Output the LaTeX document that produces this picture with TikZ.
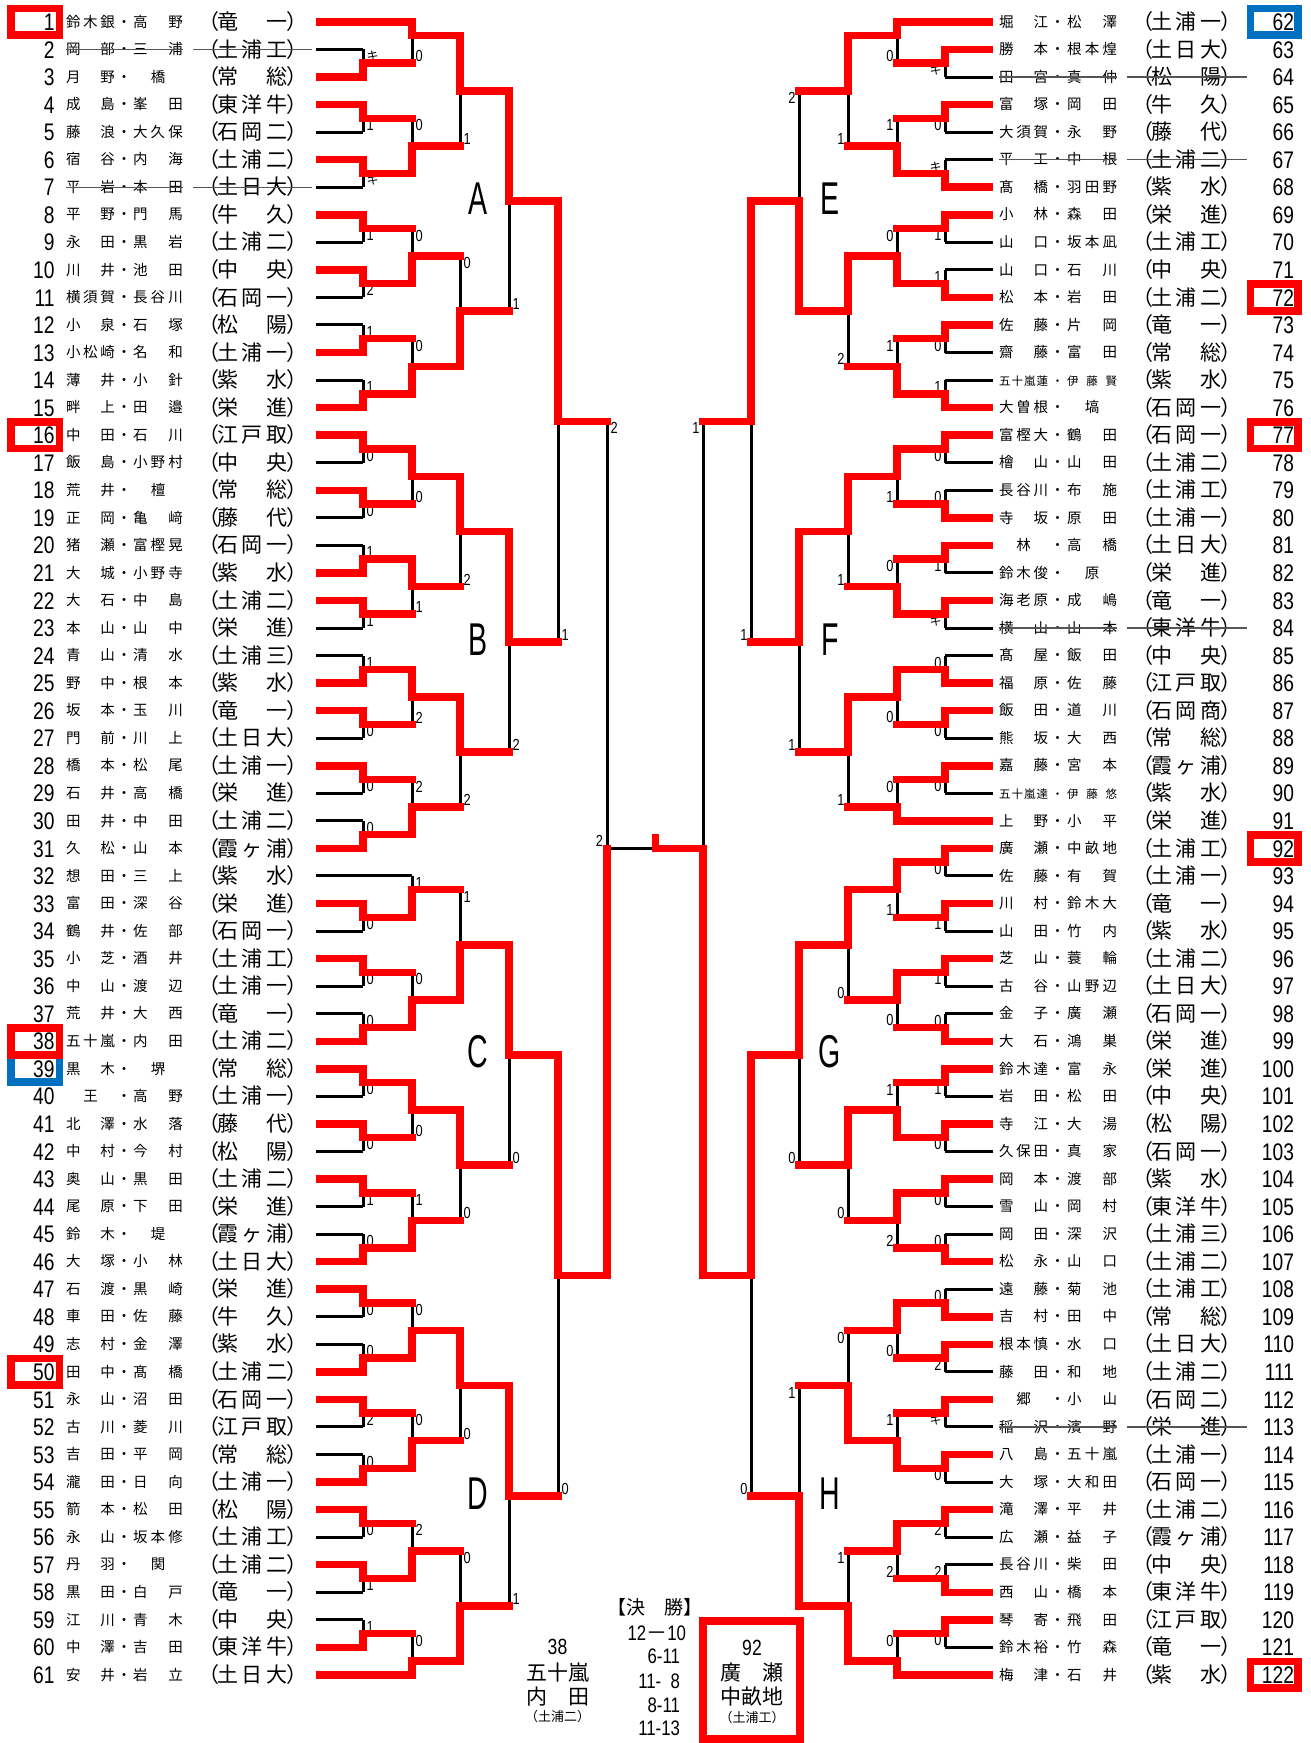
\documentclass[tikz,border=0pt]{standalone}
\usepackage{fontspec}
\setmainfont{Liberation Sans}
\newfontfamily\jpf{Noto Sans CJK JP}
\newfontfamily\nmf[FakeStretch=0.8]{Liberation Sans}
\newfontfamily\ltf[FakeStretch=0.62]{Liberation Sans}
\pgfdeclarelayer{bg}
\pgfsetlayers{bg,main}
\definecolor{bxblue}{RGB}{0,112,192}
\definecolor{stk}{RGB}{85,85,85}
\newcommand\namefont{\jpf\fontsize{14.5}{14.5}\selectfont}
\newcommand\smnamefont{\jpf\fontsize{11.5}{11.5}\selectfont}
\newcommand\schfont{\jpf\fontsize{21}{21}\selectfont}
\newcommand\numfont{\nmf\fontsize{24}{24}\selectfont}
\newcommand\labfont{\nmf\fontsize{16}{16}\selectfont}
\newcommand\ki{{\jpf\fontsize{12}{12}\selectfont キ}}
\ExplSyntaxOn
\NewDocumentCommand\spr{mm}{
  \hbox_to_wd:nn {#1} {
    \int_compare:nNnTF { \tl_count:n {#2} } = { 1 }
      { \hfil #2 \hfil }
      {
        \bool_set_false:N \l_tmpa_bool
        \tl_map_inline:nn {#2}
          { \bool_if:NT \l_tmpa_bool { \hfill } ##1 \bool_set_true:N \l_tmpa_bool }
      }
  }
}
\ExplSyntaxOff
\newcommand\yk[1]{(21.9+13.775*(#1))}
\def\LX#1{\ifcase#1 316\or 363\or 412\or 460\or 509\or 558\or 607\else 655\fi}
\def\RX#1{\ifcase#1 993\or 945\or 897\or 848\or 799\or 751\or 703\else 655\fi}
\tikzset{
  rl/.style={draw=red,line width=7.5pt,line cap=rect},
  bl/.style={draw=black,line width=3pt},
  tx/.style={inner sep=0pt,outer sep=0pt},
  lab/.style={tx,font=\labfont},
}
% entries
\newcommand\LE[3]{\edef\xa{\LX{#2}}%
  \if r#3\draw[rl] (319.75,{\yk{#1}}) -- (\xa,{\yk{#1}});%
  \else\begin{pgfonlayer}{bg}\draw[bl] (316,{\yk{#1}}) -- (\xa,{\yk{#1}});\end{pgfonlayer}\fi}
\newcommand\RE[3]{\edef\xa{\RX{#2}}%
  \if r#3\draw[rl] (989.25,{\yk{#1}}) -- (\xa,{\yk{#1}});%
  \else\begin{pgfonlayer}{bg}\draw[bl] (993,{\yk{#1}}) -- (\xa,{\yk{#1}});\end{pgfonlayer}\fi}
% matches
\newcommand\LM[6]{\edef\xa{\LX{#1}}\edef\xb{\LX{\numexpr#1+1\relax}}%
  \begin{pgfonlayer}{bg}\draw[bl] (\xa,{\yk{#2}}) -- (\xa,{\yk{#3}});\end{pgfonlayer}%
  \if t#5%
    \draw[rl] (\xa,{\yk{#2}}) -- (\xa,{\yk{#4}});%
    \node[lab,anchor=west] at (\xa+3.5,{\yk{#3}-7}) {#6};%
  \else
    \draw[rl] (\xa,{\yk{#3}}) -- (\xa,{\yk{#4}});%
    \node[lab,anchor=west] at (\xa+3.5,{\yk{#2}+7}) {#6};%
  \fi
  \ifnum#1<6 \draw[rl] (\xa,{\yk{#4}}) -- (\xb,{\yk{#4}});\fi}
\newcommand\RM[6]{\edef\xa{\RX{#1}}\edef\xb{\RX{\numexpr#1+1\relax}}%
  \begin{pgfonlayer}{bg}\draw[bl] (\xa,{\yk{#2}}) -- (\xa,{\yk{#3}});\end{pgfonlayer}%
  \if t#5%
    \draw[rl] (\xa,{\yk{#2}}) -- (\xa,{\yk{#4}});%
    \node[lab,anchor=east] at (\xa-3.5,{\yk{#3}-7}) {#6};%
  \else
    \draw[rl] (\xa,{\yk{#3}}) -- (\xa,{\yk{#4}});%
    \node[lab,anchor=east] at (\xa-3.5,{\yk{#2}+7}) {#6};%
  \fi
  \ifnum#1<6 \draw[rl] (\xa,{\yk{#4}}) -- (\xb,{\yk{#4}});\fi}
% rows
\newcommand\LR[5][n]{\pgfmathsetmacro\ry{21.9+27.55*(#2-1)}%
  \if t#1\def\nf{\smnamefont}\else\def\nf{\namefont}\fi
  \node[tx,font=\numfont,anchor=base east] (L#2) at (54.5,\ry+8.6) {#2};%
  \node[tx,font=\nf,anchor=base west] (Lf#2) at (66,\ry+5.2) {\spr{49pt}{#3}};%
  \node[tx,font=\nf,anchor=base] (Ld#2) at (124,\ry+5.2) {・};%
  \node[tx,font=\nf,anchor=base west] (Lg#2) at (133,\ry+5.2) {\spr{50pt}{#4}};%
  \node[tx,font=\schfont,anchor=base east] (Lo#2) at (219,\ry+7.6) {（};%
  \node[tx,font=\schfont,anchor=base west] (Ls#2) at (217.5,\ry+7.6) {\spr{70pt}{#5}};%
  \node[tx,font=\schfont,anchor=base west] (Lc#2) at (286,\ry+7.6) {）};%
  \if s#1\draw[stk,line width=1.3pt] (66,\ry) -- (183,\ry) (193,\ry) -- (312,\ry);\fi}
\newcommand\RR[5][n]{\pgfmathsetmacro\ry{21.9+27.55*(#2-62)}%
  \if t#1\def\nf{\smnamefont}\else\def\nf{\namefont}\fi
  \node[tx,font=\numfont,anchor=base east] (R#2) at (1294,\ry+8.6) {#2};%
  \node[tx,font=\nf,anchor=base west] (Rf#2) at (999,\ry+5.2) {\spr{49pt}{#3}};%
  \node[tx,font=\nf,anchor=base] (Rd#2) at (1057.5,\ry+5.2) {・};%
  \node[tx,font=\nf,anchor=base west] (Rg#2) at (1067,\ry+5.2) {\spr{50pt}{#4}};%
  \node[tx,font=\schfont,anchor=base east] (Ro#2) at (1153,\ry+7.6) {（};%
  \node[tx,font=\schfont,anchor=base west] (Rs#2) at (1151,\ry+7.6) {\spr{70pt}{#5}};%
  \node[tx,font=\schfont,anchor=base west] (Rc#2) at (1220.5,\ry+7.6) {）};%
  \if s#1\draw[stk,line width=1.3pt] (999,\ry) -- (1117,\ry) (1127,\ry) -- (1247,\ry);\fi}
\newcommand\Lbox[2]{\pgfmathsetmacro\ry{21.9+27.55*(#1-1)}%
  \draw[#2,line width=7.7pt] (11,\ry-13.4) rectangle (59.5,\ry+13.4);}
\newcommand\Rbox[2]{\pgfmathsetmacro\ry{21.9+27.55*(#1-62)}%
  \draw[#2,line width=7.7pt] (1250.5,\ry-13.4) rectangle (1298,\ry+13.4);}

\begin{document}
\begin{tikzpicture}[x=1pt,y=-1pt]
\begin{pgfonlayer}{bg}\fill[white] (0,0) rectangle (1311,1743);\end{pgfonlayer}
\useasboundingbox (0,0) rectangle (1311,1743);

% ---------------- left names
\LR{1}{鈴木銀}{高野}{竜一}
\LR[s]{2}{岡部}{三浦}{土浦工}
\LR{3}{月野}{橋}{常総}
\LR{4}{成島}{峯田}{東洋牛}
\LR{5}{藤浪}{大久保}{石岡二}
\LR{6}{宿谷}{内海}{土浦二}
\LR[s]{7}{平岩}{本田}{土日大}
\LR{8}{平野}{門馬}{牛久}
\LR{9}{永田}{黒岩}{土浦二}
\LR{10}{川井}{池田}{中央}
\LR{11}{横須賀}{長谷川}{石岡一}
\LR{12}{小泉}{石塚}{松陽}
\LR{13}{小松崎}{名和}{土浦一}
\LR{14}{薄井}{小針}{紫水}
\LR{15}{畔上}{田邉}{栄進}
\LR{16}{中田}{石川}{江戸取}
\LR{17}{飯島}{小野村}{中央}
\LR{18}{荒井}{檀}{常総}
\LR{19}{正岡}{亀﨑}{藤代}
\LR{20}{猪瀬}{富樫晃}{石岡一}
\LR{21}{大城}{小野寺}{紫水}
\LR{22}{大石}{中島}{土浦二}
\LR{23}{本山}{山中}{栄進}
\LR{24}{青山}{清水}{土浦三}
\LR{25}{野中}{根本}{紫水}
\LR{26}{坂本}{玉川}{竜一}
\LR{27}{門前}{川上}{土日大}
\LR{28}{橋本}{松尾}{土浦一}
\LR{29}{石井}{高橋}{栄進}
\LR{30}{田井}{中田}{土浦二}
\LR{31}{久松}{山本}{霞ヶ浦}
\LR{32}{想田}{三上}{紫水}
\LR{33}{富田}{深谷}{栄進}
\LR{34}{鶴井}{佐部}{石岡一}
\LR{35}{小芝}{酒井}{土浦工}
\LR{36}{中山}{渡辺}{土浦一}
\LR{37}{荒井}{大西}{竜一}
\LR{38}{五十嵐}{内田}{土浦二}
\LR{39}{黒木}{堺}{常総}
\LR{40}{王}{高野}{土浦一}
\LR{41}{北澤}{水落}{藤代}
\LR{42}{中村}{今村}{松陽}
\LR{43}{奥山}{黒田}{土浦二}
\LR{44}{尾原}{下田}{栄進}
\LR{45}{鈴木}{堤}{霞ヶ浦}
\LR{46}{大塚}{小林}{土日大}
\LR{47}{石渡}{黒崎}{栄進}
\LR{48}{車田}{佐藤}{牛久}
\LR{49}{志村}{金澤}{紫水}
\LR{50}{田中}{髙橋}{土浦二}
\LR{51}{永山}{沼田}{石岡一}
\LR{52}{古川}{菱川}{江戸取}
\LR{53}{吉田}{平岡}{常総}
\LR{54}{瀧田}{日向}{土浦一}
\LR{55}{箭本}{松田}{松陽}
\LR{56}{永山}{坂本修}{土浦工}
\LR{57}{丹羽}{関}{土浦二}
\LR{58}{黒田}{白戸}{竜一}
\LR{59}{江川}{青木}{中央}
\LR{60}{中澤}{吉田}{東洋牛}
\LR{61}{安井}{岩立}{土日大}

% ---------------- right names
\RR{62}{堀江}{松澤}{土浦一}
\RR{63}{勝本}{根本煌}{土日大}
\RR[s]{64}{田宮}{真仲}{松陽}
\RR{65}{富塚}{岡田}{牛久}
\RR{66}{大須賀}{永野}{藤代}
\RR[s]{67}{平工}{中根}{土浦二}
\RR{68}{髙橋}{羽田野}{紫水}
\RR{69}{小林}{森田}{栄進}
\RR{70}{山口}{坂本凪}{土浦工}
\RR{71}{山口}{石川}{中央}
\RR{72}{松本}{岩田}{土浦二}
\RR{73}{佐藤}{片岡}{竜一}
\RR{74}{齋藤}{富田}{常総}
\RR[t]{75}{五十嵐蓮}{伊藤賢}{紫水}
\RR{76}{大曽根}{塙}{石岡一}
\RR{77}{富樫大}{鶴田}{石岡一}
\RR{78}{檜山}{山田}{土浦二}
\RR{79}{長谷川}{布施}{土浦工}
\RR{80}{寺坂}{原田}{土浦一}
\RR{81}{林}{高橋}{土日大}
\RR{82}{鈴木俊}{原}{栄進}
\RR{83}{海老原}{成嶋}{竜一}
\RR[s]{84}{横山}{山本}{東洋牛}
\RR{85}{髙屋}{飯田}{中央}
\RR{86}{福原}{佐藤}{江戸取}
\RR{87}{飯田}{道川}{石岡商}
\RR{88}{熊坂}{大西}{常総}
\RR{89}{嘉藤}{宮本}{霞ヶ浦}
\RR[t]{90}{五十嵐達}{伊藤悠}{紫水}
\RR{91}{上野}{小平}{栄進}
\RR{92}{廣瀬}{中畝地}{土浦工}
\RR{93}{佐藤}{有賀}{土浦一}
\RR{94}{川村}{鈴木大}{竜一}
\RR{95}{山田}{竹内}{紫水}
\RR{96}{芝山}{蓑輪}{土浦二}
\RR{97}{古谷}{山野辺}{土日大}
\RR{98}{金子}{廣瀬}{石岡一}
\RR{99}{大石}{鴻巣}{栄進}
\RR{100}{鈴木達}{富永}{栄進}
\RR{101}{岩田}{松田}{中央}
\RR{102}{寺江}{大湯}{松陽}
\RR{103}{久保田}{真家}{石岡一}
\RR{104}{岡本}{渡部}{紫水}
\RR{105}{雪山}{岡村}{東洋牛}
\RR{106}{岡田}{深沢}{土浦三}
\RR{107}{松永}{山口}{土浦二}
\RR{108}{遠藤}{菊池}{土浦工}
\RR{109}{吉村}{田中}{常総}
\RR{110}{根本慎}{水口}{土日大}
\RR{111}{藤田}{和地}{土浦二}
\RR{112}{郷}{小山}{石岡二}
\RR[s]{113}{稲沢}{濱野}{栄進}
\RR{114}{八島}{五十嵐}{土浦一}
\RR{115}{大塚}{大和田}{石岡一}
\RR{116}{滝澤}{平井}{土浦二}
\RR{117}{広瀬}{益子}{霞ヶ浦}
\RR{118}{長谷川}{柴田}{中央}
\RR{119}{西山}{橋本}{東洋牛}
\RR{120}{琴寄}{飛田}{江戸取}
\RR{121}{鈴木裕}{竹森}{竜一}
\RR{122}{梅津}{石井}{紫水}

% ---------------- boxes
\Lbox{39}{bxblue}\Lbox{1}{red}\Lbox{16}{red}\Lbox{38}{red}\Lbox{50}{red}
\Rbox{62}{bxblue}\Rbox{72}{red}\Rbox{77}{red}\Rbox{92}{red}\Rbox{122}{red}

% ---------------- block letters
\foreach \L/\x/\y in {A/478/199,B/478/640,C/478/1052,D/478/1494,E/830/199,F/830/640,G/830/1052,H/830/1494}
  \node[tx,font=\ltf\fontsize{46}{46}\selectfont] (blk\L) at (\x,\y) {\L};

% ================= LEFT BRACKET
% A
\LE{0}{2}{r}
\LE{2}{1}{b}\LE{4}{1}{r}\LE{6}{1}{r}\LE{8}{1}{b}\LE{10}{1}{r}\LE{12}{1}{b}\LE{14}{1}{r}\LE{16}{1}{b}\LE{18}{1}{r}\LE{20}{1}{b}\LE{22}{1}{b}\LE{24}{1}{r}\LE{26}{1}{b}\LE{28}{1}{r}
\LM{1}{2}{4}{3}{b}{\ki}
\LM{1}{6}{8}{7}{t}{1}
\LM{1}{10}{12}{11}{t}{\ki}
\LM{1}{14}{16}{15}{t}{1}
\LM{1}{18}{20}{19}{t}{2}
\LM{1}{22}{24}{23}{b}{1}
\LM{1}{26}{28}{27}{b}{1}
\LM{2}{0}{3}{1}{t}{0}
\LM{2}{7}{11}{9}{b}{0}
\LM{2}{15}{19}{17}{b}{0}
\LM{2}{23}{27}{25}{b}{0}
\LM{3}{1}{9}{5}{t}{1}
\LM{3}{17}{25}{21}{b}{0}
\LM{4}{5}{21}{13}{t}{1}
% B
\LE{30}{1}{r}\LE{32}{1}{b}\LE{34}{1}{r}\LE{36}{1}{b}\LE{38}{1}{b}\LE{40}{1}{r}\LE{42}{1}{r}\LE{44}{1}{b}\LE{46}{1}{b}\LE{48}{1}{r}\LE{50}{1}{r}\LE{52}{1}{b}\LE{54}{1}{r}\LE{56}{1}{b}\LE{58}{1}{b}\LE{60}{1}{r}
\LM{1}{30}{32}{31}{t}{0}
\LM{1}{34}{36}{35}{t}{0}
\LM{1}{38}{40}{39}{b}{1}
\LM{1}{42}{44}{43}{t}{1}
\LM{1}{46}{48}{47}{b}{1}
\LM{1}{50}{52}{51}{t}{0}
\LM{1}{54}{56}{55}{t}{0}
\LM{1}{58}{60}{59}{b}{0}
\LM{2}{31}{35}{33}{t}{0}
\LM{2}{39}{43}{41}{t}{1}
\LM{2}{47}{51}{49}{t}{2}
\LM{2}{55}{59}{57}{b}{2}
\LM{3}{33}{41}{37}{t}{2}
\LM{3}{49}{57}{53}{t}{2}
\LM{4}{37}{53}{45}{t}{2}
\LM{5}{13}{45}{29}{t}{1}
% C
\LE{62}{2}{b}
\LE{64}{1}{r}\LE{66}{1}{b}\LE{68}{1}{r}\LE{70}{1}{b}\LE{72}{1}{b}\LE{74}{1}{r}\LE{76}{1}{r}\LE{78}{1}{b}\LE{80}{1}{r}\LE{82}{1}{b}\LE{84}{1}{r}\LE{86}{1}{b}\LE{88}{1}{b}\LE{90}{1}{r}
\LM{1}{64}{66}{65}{t}{0}
\LM{1}{68}{70}{69}{t}{0}
\LM{1}{72}{74}{73}{b}{0}
\LM{1}{76}{78}{77}{t}{0}
\LM{1}{80}{82}{81}{t}{0}
\LM{1}{84}{86}{85}{t}{1}
\LM{1}{88}{90}{89}{b}{0}
\LM{2}{62}{65}{63}{b}{1}
\LM{2}{69}{73}{71}{b}{0}
\LM{2}{77}{81}{79}{t}{0}
\LM{2}{85}{89}{87}{b}{1}
\LM{3}{63}{71}{67}{b}{1}
\LM{3}{79}{87}{83}{t}{0}
\LM{4}{67}{83}{75}{t}{0}
\LM{5}{75}{107}{91}{t}{0}
% D
\LE{92}{1}{r}\LE{94}{1}{b}\LE{96}{1}{b}\LE{98}{1}{r}\LE{100}{1}{r}\LE{102}{1}{b}\LE{104}{1}{b}\LE{106}{1}{r}\LE{108}{1}{r}\LE{110}{1}{b}\LE{112}{1}{r}\LE{114}{1}{b}\LE{116}{1}{b}\LE{118}{1}{r}\LE{120}{2}{r}
\LM{1}{92}{94}{93}{t}{0}
\LM{1}{96}{98}{97}{b}{0}
\LM{1}{100}{102}{101}{t}{2}
\LM{1}{104}{106}{105}{b}{0}
\LM{1}{108}{110}{109}{t}{0}
\LM{1}{112}{114}{113}{t}{1}
\LM{1}{116}{118}{117}{b}{1}
\LM{2}{93}{97}{95}{b}{0}
\LM{2}{101}{105}{103}{b}{0}
\LM{2}{109}{113}{111}{b}{2}
\LM{2}{117}{120}{119}{b}{0}
\LM{3}{95}{103}{99}{t}{0}
\LM{3}{111}{119}{115}{b}{0}
\LM{4}{99}{115}{107}{t}{1}
\LM{6}{29}{91}{60}{b}{2}

% ================= RIGHT BRACKET
% E
\RE{0}{2}{r}\RE{2}{1}{r}\RE{4}{1}{b}\RE{6}{1}{r}\RE{8}{1}{b}\RE{10}{1}{b}\RE{12}{1}{r}\RE{14}{1}{r}\RE{16}{1}{b}\RE{18}{1}{b}\RE{20}{1}{r}\RE{22}{1}{r}\RE{24}{1}{b}\RE{26}{1}{b}\RE{28}{1}{r}
\RM{1}{2}{4}{3}{t}{\ki}
\RM{1}{6}{8}{7}{t}{0}
\RM{1}{10}{12}{11}{b}{\ki}
\RM{1}{14}{16}{15}{t}{1}
\RM{1}{18}{20}{19}{b}{1}
\RM{1}{22}{24}{23}{t}{0}
\RM{1}{26}{28}{27}{b}{1}
\RM{2}{0}{3}{1}{t}{0}
\RM{2}{7}{11}{9}{b}{1}
\RM{2}{15}{19}{17}{b}{0}
\RM{2}{23}{27}{25}{b}{1}
\RM{3}{1}{9}{5}{t}{1}
\RM{3}{17}{25}{21}{t}{2}
\RM{4}{5}{21}{13}{b}{2}
\RM{5}{13}{45}{29}{t}{1}
% F
\RE{30}{1}{r}\RE{32}{1}{b}\RE{34}{1}{b}\RE{36}{1}{r}\RE{38}{1}{r}\RE{40}{1}{b}\RE{42}{1}{r}\RE{44}{1}{b}\RE{46}{1}{b}\RE{48}{1}{r}\RE{50}{1}{r}\RE{52}{1}{b}\RE{54}{1}{r}\RE{56}{1}{b}\RE{58}{2}{r}
\RM{1}{30}{32}{31}{t}{0}
\RM{1}{34}{36}{35}{b}{0}
\RM{1}{38}{40}{39}{t}{1}
\RM{1}{42}{44}{43}{t}{\ki}
\RM{1}{46}{48}{47}{b}{0}
\RM{1}{50}{52}{51}{t}{0}
\RM{1}{54}{56}{55}{t}{0}
\RM{2}{31}{35}{33}{t}{1}
\RM{2}{39}{43}{41}{b}{0}
\RM{2}{47}{51}{49}{t}{0}
\RM{2}{55}{58}{57}{b}{0}
\RM{3}{33}{41}{37}{t}{1}
\RM{3}{49}{57}{53}{t}{1}
\RM{4}{37}{53}{45}{t}{1}
% G
\RE{60}{1}{r}\RE{62}{1}{b}\RE{64}{1}{r}\RE{66}{1}{b}\RE{68}{1}{r}\RE{70}{1}{b}\RE{72}{1}{b}\RE{74}{1}{r}\RE{76}{1}{r}\RE{78}{1}{b}\RE{80}{1}{r}\RE{82}{1}{b}\RE{84}{1}{r}\RE{86}{1}{b}\RE{88}{1}{b}\RE{90}{1}{r}
\RM{1}{60}{62}{61}{t}{0}
\RM{1}{64}{66}{65}{t}{1}
\RM{1}{68}{70}{69}{t}{1}
\RM{1}{72}{74}{73}{b}{0}
\RM{1}{76}{78}{77}{t}{1}
\RM{1}{80}{82}{81}{t}{0}
\RM{1}{84}{86}{85}{t}{0}
\RM{1}{88}{90}{89}{b}{0}
\RM{2}{61}{65}{63}{t}{1}
\RM{2}{69}{73}{71}{t}{0}
\RM{2}{77}{81}{79}{b}{1}
\RM{2}{85}{89}{87}{t}{2}
\RM{3}{63}{71}{67}{t}{0}
\RM{3}{79}{87}{83}{t}{0}
\RM{4}{67}{83}{75}{t}{0}
% H
\RE{92}{1}{b}\RE{94}{1}{r}\RE{96}{1}{r}\RE{98}{1}{b}\RE{100}{1}{r}\RE{102}{1}{b}\RE{104}{1}{r}\RE{106}{1}{b}\RE{108}{1}{r}\RE{110}{1}{b}\RE{112}{1}{b}\RE{114}{1}{r}\RE{116}{1}{r}\RE{118}{1}{b}\RE{120}{2}{r}
\RM{1}{92}{94}{93}{b}{0}
\RM{1}{96}{98}{97}{t}{2}
\RM{1}{100}{102}{101}{t}{\ki}
\RM{1}{104}{106}{105}{t}{0}
\RM{1}{108}{110}{109}{t}{2}
\RM{1}{112}{114}{113}{b}{2}
\RM{1}{116}{118}{117}{t}{0}
\RM{2}{93}{97}{95}{t}{0}
\RM{2}{101}{105}{103}{b}{1}
\RM{2}{109}{113}{111}{t}{2}
\RM{2}{117}{120}{119}{b}{0}
\RM{3}{95}{103}{99}{b}{0}
\RM{3}{111}{119}{115}{b}{1}
\RM{4}{99}{115}{107}{b}{1}
\RM{5}{75}{107}{91}{t}{0}
\RM{6}{29}{91}{60}{b}{1}

% ================= FINAL
\begin{pgfonlayer}{bg}\draw[bl] (607,{\yk{60}}) -- (652,{\yk{60}});\end{pgfonlayer}
\draw[rl] (655.5,837.75) -- (655.5,{\yk{60}}) -- (703,{\yk{60}});
\node[lab,anchor=east] (fsc) at (603,{\yk{60}-7}) {2};

\node[tx,font=\jpf\fontsize{19}{19}\selectfont] (kessho) at (655,1607) {【決　勝】};
\begin{scope}[every node/.style={tx,font=\nmf\fontsize{21}{21}\selectfont,anchor=base east}]
\node (s1) at (686,1640) {12{\jpf －}10};
\node (s2) at (680,1663.5) {6-11};
\node (s3) at (680,1688) {11-\hphantom{1}8};
\node (s4) at (680,1712) {8-11};
\node (s5) at (680,1735) {11-13};
\end{scope}
\node[tx,font=\nmf\fontsize{22}{22}\selectfont] (w1n) at (557.5,1647) {38};
\node[tx,font=\jpf\fontsize{21}{21}\selectfont] (w1a) at (557.5,1673) {五十嵐};
\node[tx,font=\jpf\fontsize{21}{21}\selectfont] (w1b) at (557.5,1697) {\spr{63pt}{内田}};
\node[tx,font=\jpf\fontsize{13}{13}\selectfont] (w1c) at (557.5,1717) {（土浦二）};
\node[tx,font=\nmf\fontsize{22}{22}\selectfont] (w2n) at (752,1648) {92};
\node[tx,font=\jpf\fontsize{21}{21}\selectfont] (w2a) at (752,1673) {\spr{63pt}{廣瀬}};
\node[tx,font=\jpf\fontsize{21}{21}\selectfont] (w2b) at (752,1697) {中畝地};
\node[tx,font=\jpf\fontsize{13}{13}\selectfont] (w2c) at (752,1718) {（土浦工）};
\draw[red,line width=8pt] (703,1621) rectangle (800,1739);
\end{tikzpicture}
\end{document}
